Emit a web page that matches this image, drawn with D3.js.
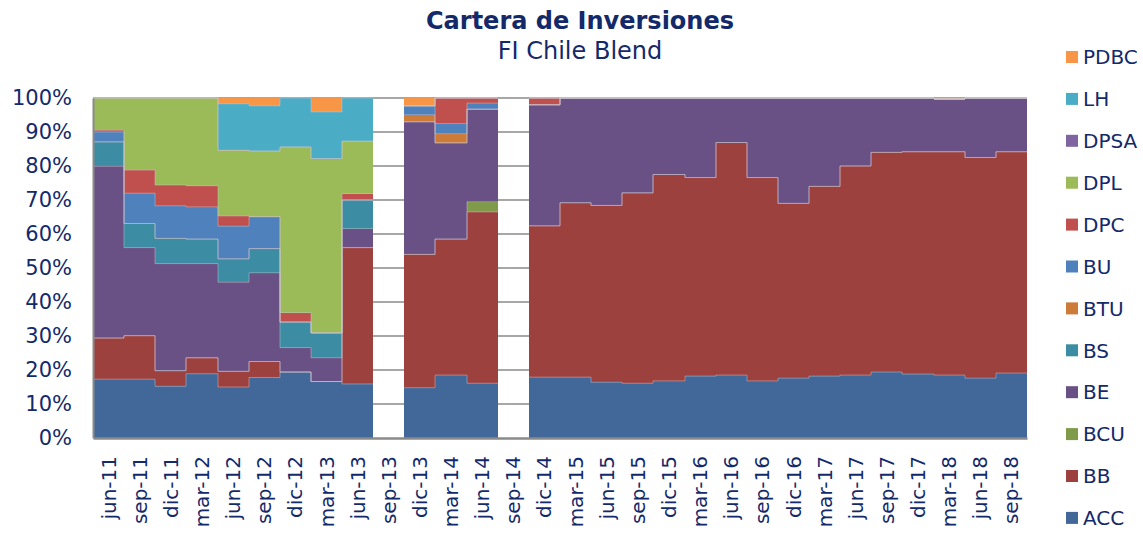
<!DOCTYPE html>
<html>
<head>
<meta charset="utf-8">
<script src="https://cdn.jsdelivr.net/npm/d3@7"></script>
<style>
  body { margin: 0; background: #fff; }
  #chart { width: 1143px; height: 542px; }
</style>
</head>
<body>
<div id="chart"></div>
<script>
// Cartera de Inversiones - FI Chile Blend (100% stacked columns)
const categories = ["jun-11","sep-11","dic-11","mar-12","jun-12","sep-12","dic-12","mar-13","jun-13","sep-13",
  "dic-13","mar-14","jun-14","sep-14","dic-14","mar-15","jun-15","sep-15","dic-15","mar-16",
  "jun-16","sep-16","dic-16","mar-17","jun-17","sep-17","dic-17","mar-18","jun-18","sep-18"];

// series, bottom to top (null = no data)
const ACC  = [17.3,17.3,15.2,18.9,15.0,17.8,19.4,16.6,15.9,null,14.8,18.5,16.1,null,17.9,17.9,16.4,16.1,16.8,18.2,18.5,16.8,17.6,18.2,18.5,19.4,18.8,18.5,17.6,19.1];
const BB   = [12.1,12.8,4.6,4.7,4.6,4.7,0,0,40.1,null,39.2,40.0,50.4,null,44.5,51.3,52.0,56.0,60.7,58.4,68.4,59.8,51.4,55.8,61.5,64.6,65.4,65.7,64.9,65.1];
const BCU  = [0,0,0,0,0,0,0,0,0,null,0,0,3.0,null,0,0,0,0,0,0,0,0,0,0,0,0,0,0,0,0];
const BE   = [50.5,25.9,31.5,27.7,26.2,26.1,7.2,7.0,5.6,null,39.0,28.3,27.2,null,35.6,30.8,31.6,27.9,22.5,23.4,13.1,23.4,31.0,26.0,20.0,16.0,15.8,15.5,17.5,15.8];
const BS   = [7.2,7.1,7.4,7.2,6.9,7.1,7.5,7.3,8.4,null,0,0,0,null,0,0,0,0,0,0,0,0,0,0,0,0,0,0,0,0];
const BTU  = [0,0,0,0,0,0,0,0,0,null,2.1,2.7,0,null,0,0,0,0,0,0,0,0,0,0,0,0,0,0,0,0];
const BU   = [2.9,8.9,9.6,9.5,9.6,9.4,0,0,0,null,2.6,3.0,1.8,null,0,0,0,0,0,0,0,0,0,0,0,0,0,0,0,0];
const DPC  = [0.5,6.8,6.1,6.2,3.0,0,2.8,0,1.9,null,0,7.5,1.5,null,2.0,0,0,0,0,0,0,0,0,0,0,0,0,0,0,0];
const DPL  = [9.5,21.2,25.6,25.8,19.3,19.3,48.7,51.3,15.4,null,0,0,0,null,0,0,0,0,0,0,0,0,0,0,0,0,0,0,0,0];
const DPSA = [0,0,0,0,0,0,0,0,0,null,0,0,0,null,0,0,0,0,0,0,0,0,0,0,0,0,0,0,0,0];
const LH   = [0,0,0,0,13.7,13.3,14.4,13.7,12.7,null,0,0,0,null,0,0,0,0,0,0,0,0,0,0,0,0,0,0,0,0];
const PDBC = [0,0,0,0,1.7,2.3,0,4.1,0,null,2.3,0,0,null,0,0,0,0,0,0,0,0,0,0,0,0,0,0.3,0,0];

const seriesNames = ["ACC","BB","BCU","BE","BS","BTU","BU","DPC","DPL","DPSA","LH","PDBC"];
const seriesValues = [ACC,BB,BCU,BE,BS,BTU,BU,DPC,DPL,DPSA,LH,PDBC];
const colors = ["#416899","#9d413f","#7f9a48","#695185","#3c8ca3","#cc7b38","#4f81bd","#c0504d","#9bbb59","#8064a2","#4bacc6","#f79646"];
const yTicks = [0,0.1,0.2,0.3,0.4,0.5,0.6,0.7,0.8,0.9,1];

const W = 1143, H = 542;
const M = {t: 98, r: 116, b: 104, l: 93};
const textColor = "#13296a";
const font = "'DejaVu Sans', Verdana, sans-serif";

const svg = d3.select('#chart').append('svg').attr('width', W).attr('height', H)
  .style('font-family', font);

// table for the stack; columns with no data are flagged
const rows = categories.map((c, i) => {
  const r = {cat: c, empty: ACC[i] === null};
  seriesNames.forEach((s, j) => { r[s] = seriesValues[j][i] || 0; });
  return r;
});
const filled = rows.filter(r => !r.empty);

const x = d3.scaleBand().domain(categories).range([M.l, W - M.r]).padding(0);
const y = d3.scaleLinear().domain([0, 1]).range([H - M.b, M.t]);
const color = d3.scaleOrdinal().domain(seriesNames).range(colors);

// snapped column edges so neighbouring columns meet without seams
const x0 = c => Math.round(x(c));
const x1 = c => Math.round(x(c) + x.bandwidth());

const stack = d3.stack().keys(seriesNames).offset(d3.stackOffsetExpand);
const series = stack(filled);

// gridlines
svg.append('g')
  .selectAll('line')
  .data(yTicks.slice(1))
  .enter().append('line')
  .attr('x1', M.l).attr('x2', W - M.r)
  .attr('y1', d => y(d)).attr('y2', d => y(d))
  .attr('stroke', '#8a8a8a').attr('stroke-width', 1.6);

// bars
svg.append('g')
  .attr('shape-rendering', 'crispEdges')
  .selectAll('g')
  .data(series)
  .enter().append('g')
  .attr('fill', d => color(d.key))
  .selectAll('rect')
  .data(d => d.filter(p => p[1] - p[0] > 0))
  .enter().append('rect')
  .attr('x', d => x0(d.data.cat))
  .attr('y', d => y(d[1]))
  .attr('width', d => x1(d.data.cat) - x0(d.data.cat))
  .attr('height', d => y(d[0]) - y(d[1]));

// thin step outline along the top of each segment, broken at empty columns
const topLine = d3.line()
  .defined(p => p.ok)
  .x(p => p.x).y(p => p.y);

svg.append('g')
  .selectAll('path')
  .data(series.slice(0, -1))
  .enter().append('path')
  .attr('fill', 'none')
  .attr('stroke', 'rgba(205,195,205,0.6)')
  .attr('stroke-width', 0.8)
  .attr('d', s => {
    const pts = [];
    let k = 0;
    rows.forEach(r => {
      if (r.empty) { pts.push({ok: false}); return; }
      const p = s[k++];
      const yy = y(p[1]);
      pts.push({ok: true, x: x0(r.cat), y: yy});
      pts.push({ok: true, x: x1(r.cat), y: yy});
    });
    return topLine(pts);
  });

// axes
const yAxis = svg.append('g')
  .attr('transform', `translate(${M.l},0)`)
  .call(d3.axisLeft(y).tickValues(yTicks).tickFormat(d3.format('.0%')).tickSize(0).tickPadding(21));
yAxis.select('.domain').attr('stroke', '#8a8a8a').attr('stroke-width', 2);
yAxis.selectAll('text').attr('font-size', '21px').attr('fill', textColor).attr('font-family', font);

const xAxis = svg.append('g')
  .attr('transform', `translate(0,${H - M.b})`)
  .call(d3.axisBottom(x).tickSize(0).tickPadding(0));
xAxis.select('.domain').attr('stroke', '#8a8a8a').attr('stroke-width', 2.5);
xAxis.selectAll('text')
  .attr('font-size', '20px').attr('fill', textColor).attr('font-family', font)
  .attr('text-anchor', 'end')
  .attr('dy', '0.35em')
  .attr('transform', 'translate(0,18) rotate(-90)')
  .attr('x', 0).attr('y', 0);

// titles
svg.append('text')
  .attr('x', 580).attr('y', 29)
  .attr('text-anchor', 'middle')
  .attr('font-size', '24px').attr('font-weight', 700)
  .attr('fill', textColor)
  .text('Cartera de Inversiones');

svg.append('text')
  .attr('x', 580).attr('y', 59)
  .attr('text-anchor', 'middle')
  .attr('font-size', '24px')
  .attr('fill', textColor)
  .text('FI Chile Blend');

// legend, top entry is the last series
const legend = svg.append('g').attr('transform', 'translate(1066,57)');
seriesNames.slice().reverse().forEach((s, i) => {
  const row = legend.append('g').attr('transform', `translate(0,${i * 41.9})`);
  row.append('rect')
    .attr('x', 0).attr('y', -6).attr('width', 12).attr('height', 12)
    .attr('fill', color(s));
  row.append('text')
    .attr('x', 17).attr('y', 0).attr('dy', '0.36em')
    .attr('font-size', '20px').attr('fill', textColor)
    .text(s);
});
</script>
</body>
</html>
